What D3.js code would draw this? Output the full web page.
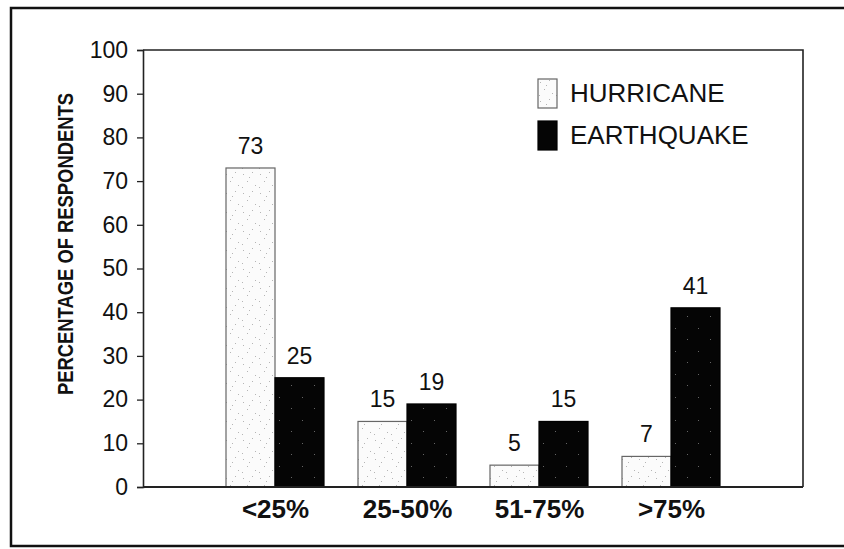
<!DOCTYPE html>
<html>
<head>
<meta charset="utf-8">
<script src="https://cdn.jsdelivr.net/npm/d3@7"></script>
<style>
  html, body { margin: 0; padding: 0; background: #fff; }
  svg { display: block; font-family: "Liberation Sans", Arial, Helvetica, sans-serif; }
</style>
</head>
<body>
<svg id="chart" width="844" height="549"></svg>
<script>
// ---- data ----
const categories = ["<25%", "25-50%", "51-75%", ">75%"];
const seriesNames = ["HURRICANE", "EARTHQUAKE"];
const hurricane = [73, 15, 5, 7];
const earthquake = [25, 19, 15, 41];
const yTicks = [0, 10, 20, 30, 40, 50, 60, 70, 80, 90, 100];
const yTitle = "PERCENTAGE OF RESPONDENTS";

const svg = d3.select("#chart");
const W = 844, H = 549;
const plot = { left: 143, right: 803, top: 50, bottom: 487 };

// patterns
const defs = svg.append("defs");
const pH = defs.append("pattern").attr("id", "stippleLight")
  .attr("patternUnits", "userSpaceOnUse").attr("width", 17).attr("height", 19);
pH.append("rect").attr("width", 17).attr("height", 19).attr("fill", "#fbfbfb");
[[2,3],[11,1],[6,10],[14,14],[1,16],[8,6]].forEach(([x,y]) =>
  pH.append("rect").attr("x", x).attr("y", y).attr("width", 1).attr("height", 1).attr("fill", "#b5b5b5"));
const pE = defs.append("pattern").attr("id", "stippleDark")
  .attr("patternUnits", "userSpaceOnUse").attr("width", 23).attr("height", 23);
pE.append("rect").attr("width", 23).attr("height", 23).attr("fill", "#050505");
[[4,6],[16,17]].forEach(([x,y]) =>
  pE.append("rect").attr("x", x).attr("y", y).attr("width", 1).attr("height", 1).attr("fill", "#666"));

// outer border (right side runs off the picture)
svg.append("path")
  .attr("d", `M ${W + 5} 8 L 11 8 L 11 546 L ${W + 5} 546`)
  .attr("fill", "none").attr("stroke", "#111").attr("stroke-width", 2.5);

// scales
const x = d3.scalePoint().domain(categories).range([plot.left, plot.right]).padding(1);
const xSub = d3.scaleBand().domain(seriesNames).range([-49, 49]).paddingInner(0).paddingOuter(0);
const y = d3.scaleLinear().domain([0, 100]).range([plot.bottom, plot.top]);

// plot frame (top and right)
svg.append("path")
  .attr("d", `M ${plot.left} ${plot.top} L ${plot.right} ${plot.top} L ${plot.right} ${plot.bottom}`)
  .attr("fill", "none").attr("stroke", "#222").attr("stroke-width", 1.6);

// bars
const rows = categories.map((c, i) => ({ cat: c, vals: [
  { s: seriesNames[0], v: hurricane[i] },
  { s: seriesNames[1], v: earthquake[i] }
]}));

const g = svg.append("g").selectAll("g").data(rows).join("g")
  .attr("transform", d => `translate(${x(d.cat)},0)`);

g.selectAll("rect").data(d => d.vals).join("rect")
  .attr("x", d => xSub(d.s))
  .attr("y", d => y(d.v))
  .attr("width", xSub.bandwidth())
  .attr("height", d => y(0) - y(d.v))
  .attr("fill", d => d.s === "HURRICANE" ? "url(#stippleLight)" : "url(#stippleDark)")
  .attr("stroke", d => d.s === "HURRICANE" ? "#666" : "#000")
  .attr("stroke-width", 1.2);

g.selectAll("text.val").data(d => d.vals).join("text")
  .attr("class", "val")
  .attr("x", d => xSub(d.s) + xSub.bandwidth() / 2)
  .attr("y", d => y(d.v) - 14)
  .attr("text-anchor", "middle")
  .attr("font-size", 23)
  .attr("fill", "#111")
  .text(d => d.v);

// y axis
const yAxis = svg.append("g").attr("transform", `translate(${plot.left},0)`)
  .call(d3.axisLeft(y).tickValues(yTicks).tickSize(6).tickPadding(9).tickFormat(d3.format("d")));
yAxis.select(".domain").attr("stroke", "#222").attr("stroke-width", 1.6);
yAxis.selectAll(".tick line").attr("stroke", "#222").attr("stroke-width", 1.3);
yAxis.selectAll(".tick text").attr("font-size", 23).attr("fill", "#111")
  .attr("font-family", "'Liberation Sans', Arial, sans-serif");

// x axis baseline with category labels
const xAxis = svg.append("g").attr("transform", `translate(0,${plot.bottom})`)
  .call(d3.axisBottom(x).tickSize(0).tickPadding(13));
xAxis.select(".domain").attr("d", `M ${plot.left} 0 H ${plot.right}`)
  .attr("stroke", "#222").attr("stroke-width", 1.8);
xAxis.selectAll(".tick text").attr("font-size", 26).attr("font-weight", "bold")
  .attr("fill", "#111").attr("font-family", "'Liberation Sans', Arial, sans-serif")
  .attr("dy", "0.71em");

// y title
svg.append("text")
  .attr("transform", `translate(73,244) rotate(-90)`)
  .attr("text-anchor", "middle")
  .attr("font-size", 22)
  .attr("font-weight", "bold")
  .attr("fill", "#111")
  .attr("textLength", 302)
  .attr("lengthAdjust", "spacingAndGlyphs")
  .text(yTitle);

// legend
const legend = svg.append("g").attr("transform", "translate(538,79)");
const li = legend.selectAll("g").data(seriesNames).join("g")
  .attr("transform", (d, i) => `translate(0,${i * 42})`);
li.append("rect")
  .attr("width", 19).attr("height", 29)
  .attr("fill", (d, i) => i === 0 ? "url(#stippleLight)" : "#050505")
  .attr("stroke", (d, i) => i === 0 ? "#666" : "#000").attr("stroke-width", 1.2);
li.append("text")
  .attr("x", 32).attr("y", 23)
  .attr("font-size", 26)
  .attr("fill", "#111")
  .text(d => d);
</script>
</body>
</html>
